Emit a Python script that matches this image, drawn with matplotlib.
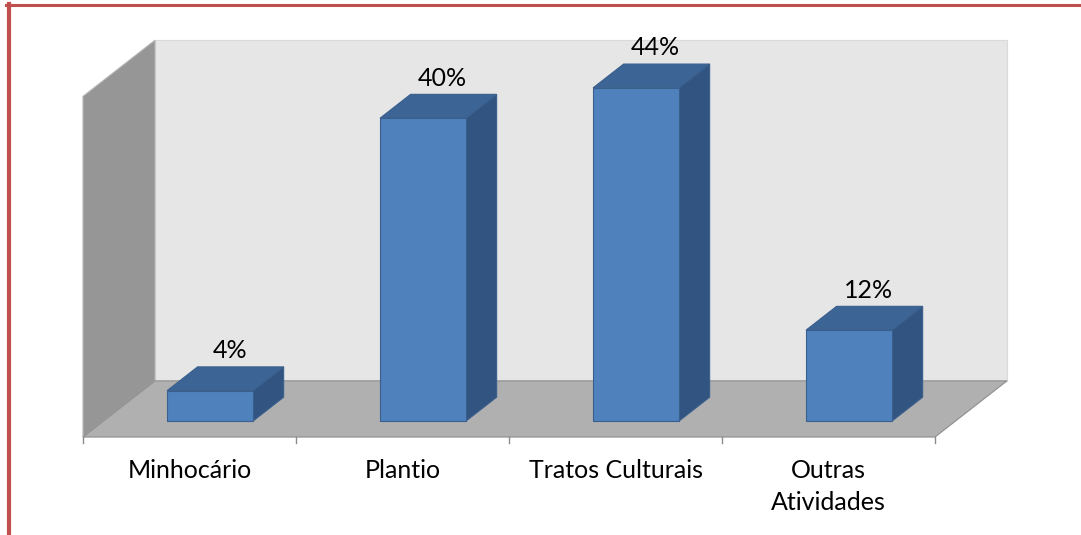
import matplotlib
matplotlib.use('Agg')
import matplotlib.pyplot as plt
from matplotlib.patches import Polygon
from matplotlib.lines import Line2D

plt.rcParams['font.family'] = ['Lato', 'DejaVu Sans']

# dados
categorias = ['Minhocário', 'Plantio', 'Tratos Culturais', 'Outras\nAtividades']
valores = [4, 40, 44, 12]
rotulos = ['4%', '40%', '44%', '12%']
eixo_max = 45

# vetor de profundidade (efeito 3D) em unidades de dados
DX, DZ = 0.338, 7.42
piso = -2.12          # altura do piso no plano da frente
d0, d1 = 0.286, 0.71  # profundidade ocupada pelas barras
larg = 0.404

cor_frente = '#4F81BD'
cor_topo = '#3C6595'
cor_lado = '#325480'
cor_borda = '#3A5F8C'


def proj(x, z, d):
    return (x + d * DX, z + d * DZ)


fig = plt.figure(figsize=(10.81, 5.35), dpi=100)
ax = fig.add_axes([0, 0, 1, 1])
ax.set_xlim(-0.8897, 4.1854)
ax.set_ylim(-15.06, 55.61)
ax.axis('off')

n = len(categorias)
x0, x1 = -0.5, n - 0.5
topo = piso + eixo_max

# parede do fundo
ax.add_patch(Polygon([proj(x0, piso, 1), proj(x1, piso, 1), proj(x1, topo, 1), proj(x0, topo, 1)],
                     closed=True, fc='#E6E6E6', ec='#DADADA', lw=0.8))
# parede lateral
ax.add_patch(Polygon([proj(x0, piso, 0), proj(x0, topo, 0), proj(x0, topo, 1), proj(x0, piso, 1)],
                     closed=True, fc='#969696', ec='#B5B5B5', lw=0.8))
# piso
ax.add_patch(Polygon([proj(x0, piso, 0), proj(x1, piso, 0), proj(x1, piso, 1), proj(x0, piso, 1)],
                     closed=True, fc='#B0B0B0', ec='#8E8E8E', lw=0.8))

# ticks do eixo x
for i in range(n + 1):
    xt = x0 + i
    ax.plot([xt, xt], [piso, piso - 0.8], color='#8C8C8C', lw=1)

# barras
for i, v in enumerate(valores):
    xa, xb = i - larg / 2, i + larg / 2
    zb, zt = piso, piso + v
    lado = [proj(xb, zb, d0), proj(xb, zb, d1), proj(xb, zt, d1), proj(xb, zt, d0)]
    cima = [proj(xa, zt, d0), proj(xb, zt, d0), proj(xb, zt, d1), proj(xa, zt, d1)]
    frente = [proj(xa, zb, d0), proj(xb, zb, d0), proj(xb, zt, d0), proj(xa, zt, d0)]
    ax.add_patch(Polygon(lado, closed=True, fc=cor_lado, ec=cor_borda, lw=0.8))
    ax.add_patch(Polygon(cima, closed=True, fc=cor_topo, ec=cor_borda, lw=0.8))
    ax.add_patch(Polygon(frente, closed=True, fc=cor_frente, ec=cor_borda, lw=0.8))
    xl, yl = proj(i + 0.02, zt, 0.5)
    ax.text(xl, yl + 3.7, rotulos[i], ha='center', va='center', fontsize=18, color='black')

# rótulos das categorias
for i, c in enumerate(categorias):
    ax.text(i, piso - 2.9, c, ha='center', va='top', fontsize=18, color='black', linespacing=1.45)

# moldura vermelha
fig.add_artist(Line2D([6 / 1081, 1], [1 - 5 / 535, 1 - 5 / 535], color='#C0504D', lw=2.2))
fig.add_artist(Line2D([8.5 / 1081, 8.5 / 1081], [0, 1 - 4 / 535], color='#C0504D', lw=3.0))

fig.savefig('out.png', dpi=100)
